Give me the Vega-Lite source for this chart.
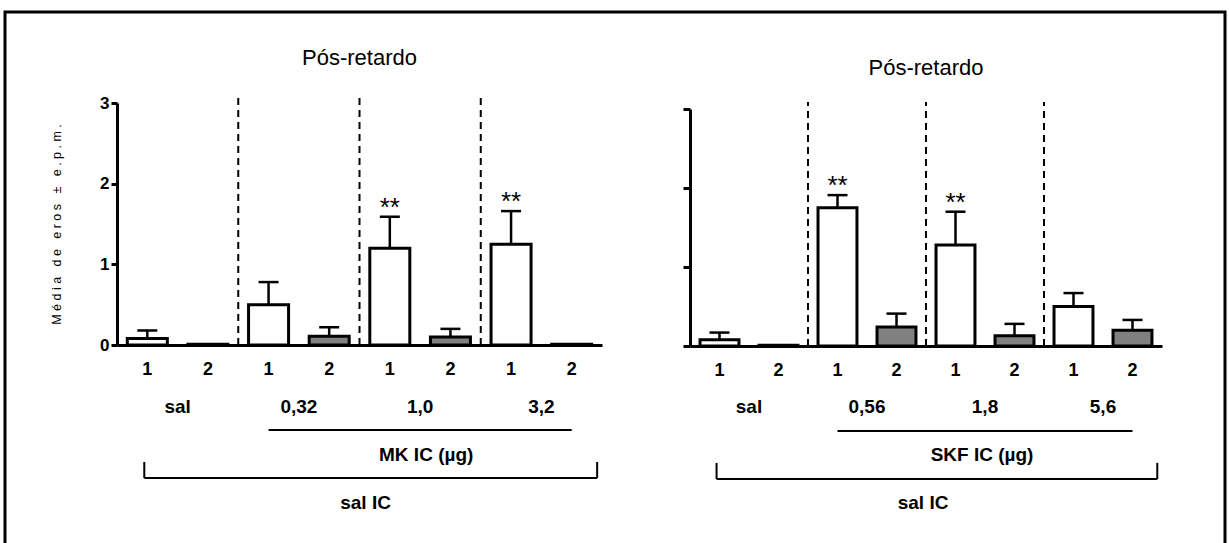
{
  "$schema": "https://vega.github.io/schema/vega-lite/v6.json",
  "width": 1220,
  "height": 560,
  "autosize": {"type": "none"},
  "padding": {"left": 5, "top": 12, "right": 4, "bottom": 0},
  "background": "white",
  "config": {
    "font": "Liberation Sans",
    "view": {"stroke": "black", "strokeWidth": 3},
    "axis": {"grid": false, "domainColor": "black", "tickColor": "black", "labelColor": "black", "titleColor": "black"},
    "text": {"color": "black"}
  },
  "datasets": {
    "left": [
      {"cond": "sal-1", "group": "sal", "trial": "1", "mean": 0.08, "upper": 0.18, "sig": ""},
      {"cond": "sal-2", "group": "sal", "trial": "2", "mean": 0.01, "upper": null, "sig": ""},
      {"cond": "0,32-1", "group": "0,32", "trial": "1", "mean": 0.5, "upper": 0.78, "sig": ""},
      {"cond": "0,32-2", "group": "0,32", "trial": "2", "mean": 0.11, "upper": 0.22, "sig": ""},
      {"cond": "1,0-1", "group": "1,0", "trial": "1", "mean": 1.2, "upper": 1.59, "sig": "**"},
      {"cond": "1,0-2", "group": "1,0", "trial": "2", "mean": 0.1, "upper": 0.2, "sig": ""},
      {"cond": "3,2-1", "group": "3,2", "trial": "1", "mean": 1.25, "upper": 1.66, "sig": "**"},
      {"cond": "3,2-2", "group": "3,2", "trial": "2", "mean": 0.01, "upper": null, "sig": ""}
    ],
    "right": [
      {"cond": "sal-1", "group": "sal", "trial": "1", "mean": 0.08, "upper": 0.17, "sig": ""},
      {"cond": "sal-2", "group": "sal", "trial": "2", "mean": 0.01, "upper": null, "sig": ""},
      {"cond": "0,56-1", "group": "0,56", "trial": "1", "mean": 1.75, "upper": 1.91, "sig": "**"},
      {"cond": "0,56-2", "group": "0,56", "trial": "2", "mean": 0.24, "upper": 0.41, "sig": ""},
      {"cond": "1,8-1", "group": "1,8", "trial": "1", "mean": 1.28, "upper": 1.7, "sig": "**"},
      {"cond": "1,8-2", "group": "1,8", "trial": "2", "mean": 0.13, "upper": 0.28, "sig": ""},
      {"cond": "5,6-1", "group": "5,6", "trial": "1", "mean": 0.5, "upper": 0.67, "sig": ""},
      {"cond": "5,6-2", "group": "5,6", "trial": "2", "mean": 0.2, "upper": 0.33, "sig": ""}
    ],
    "one": [{}]
  },
  "layer": [
    {
      "data": {"name": "left"},
      "transform": [{"filter": "datum.trial == '1' && datum.group != 'sal'"}],
      "mark": {"type": "rule", "strokeDash": [7, 5], "strokeWidth": 2, "color": "black"},
      "encoding": {
        "x": {"field": "cond", "type": "nominal", "bandPosition": 0, "scale": {"type": "band", "domain": ["sal-1","sal-2","0,32-1","0,32-2","1,0-1","1,0-2","3,2-1","3,2-2"], "range": [112, 597], "paddingInner": 0, "paddingOuter": 0}, "axis": null},
        "y": {"datum": 0, "type": "quantitative", "scale": {"domain": [0, 3], "range": [333, 91], "nice": false}, "axis": null},
        "y2": {"datum": 3.07}
      }
    },
    {
      "data": {"name": "left"},
      "mark": {"type": "bar", "width": {"band": 0.66}, "stroke": "black", "strokeWidth": 3},
      "encoding": {
        "x": {"field": "cond", "type": "nominal", "scale": {"type": "band", "domain": ["sal-1","sal-2","0,32-1","0,32-2","1,0-1","1,0-2","3,2-1","3,2-2"], "range": [112, 597], "paddingInner": 0, "paddingOuter": 0},
          "axis": {"orient": "bottom", "offset": -227, "title": null, "ticks": false, "domainWidth": 3, "labelExpr": "split(datum.label, '-')[1]", "labelFontSize": 18, "labelFontWeight": "bold", "labelPadding": 15, "labelAngle": 0}},
        "y": {"field": "mean", "type": "quantitative", "stack": null, "scale": {"domain": [0, 3], "range": [333, 91], "nice": false},
          "axis": {"orient": "left", "offset": -112, "values": [0, 1, 2, 3], "format": "d", "domainWidth": 3, "tickWidth": 3, "tickSize": 6, "labelFontSize": 17, "labelFontWeight": "bold", "labelPadding": 2, "title": "M\u00a0é\u00a0d\u00a0i\u00a0a\u00a0\u00a0\u00a0d\u00a0e\u00a0\u00a0\u00a0e\u00a0r\u00a0o\u00a0s\u00a0\u00a0\u00a0±\u00a0\u00a0\u00a0e\u00a0.\u00a0p\u00a0.\u00a0m\u00a0.", "titleFontSize": 12.5, "titleFontWeight": "normal", "titlePadding": 36}},
        "fill": {"field": "trial", "type": "nominal", "scale": {"domain": ["1", "2"], "range": ["white", "#808080"]}, "legend": null}
      }
    },
    {
      "data": {"name": "left"},
      "transform": [{"filter": "isValid(datum.upper)"}],
      "mark": {"type": "rule", "strokeWidth": 2.5, "color": "black"},
      "encoding": {
        "x": {"field": "cond", "type": "nominal", "scale": {"type": "band", "domain": ["sal-1","sal-2","0,32-1","0,32-2","1,0-1","1,0-2","3,2-1","3,2-2"], "range": [112, 597], "paddingInner": 0, "paddingOuter": 0}, "axis": null},
        "y": {"field": "mean", "type": "quantitative", "scale": {"domain": [0, 3], "range": [333, 91], "nice": false}, "axis": null},
        "y2": {"field": "upper"}
      }
    },
    {
      "data": {"name": "left"},
      "transform": [{"filter": "isValid(datum.upper)"}],
      "mark": {"type": "tick", "thickness": 2.5, "size": 20, "color": "black", "opacity": 1},
      "encoding": {
        "x": {"field": "cond", "type": "nominal", "scale": {"type": "band", "domain": ["sal-1","sal-2","0,32-1","0,32-2","1,0-1","1,0-2","3,2-1","3,2-2"], "range": [112, 597], "paddingInner": 0, "paddingOuter": 0}, "axis": null},
        "y": {"field": "upper", "type": "quantitative", "scale": {"domain": [0, 3], "range": [333, 91], "nice": false}, "axis": null}
      }
    },
    {
      "data": {"name": "left"},
      "transform": [{"filter": "datum.sig != ''"}],
      "mark": {"type": "text", "fontSize": 26, "dy": -1, "baseline": "alphabetic"},
      "encoding": {
        "x": {"field": "cond", "type": "nominal", "scale": {"type": "band", "domain": ["sal-1","sal-2","0,32-1","0,32-2","1,0-1","1,0-2","3,2-1","3,2-2"], "range": [112, 597], "paddingInner": 0, "paddingOuter": 0}, "axis": null},
        "y": {"field": "upper", "type": "quantitative", "scale": {"domain": [0, 3], "range": [333, 91], "nice": false}, "axis": null},
        "text": {"field": "sig"}
      }
    },
    {
      "data": {"name": "left"},
      "transform": [{"filter": "datum.trial == '1'"}],
      "mark": {"type": "text", "fontSize": 19, "fontWeight": "bold", "baseline": "middle"},
      "encoding": {
        "x": {"field": "cond", "type": "nominal", "bandPosition": 1, "scale": {"type": "band", "domain": ["sal-1","sal-2","0,32-1","0,32-2","1,0-1","1,0-2","3,2-1","3,2-2"], "range": [112, 597], "paddingInner": 0, "paddingOuter": 0}, "axis": null},
        "y": {"datum": -0.77, "type": "quantitative", "scale": {"domain": [0, 3], "range": [333, 91], "nice": false}, "axis": null},
        "text": {"field": "group"}
      }
    },
    {
      "data": {"name": "one"},
      "mark": {"type": "text", "fontSize": 22, "baseline": "middle"},
      "encoding": {
        "x": {"datum": 4, "type": "quantitative", "scale": {"domain": [0, 8], "range": [112, 597], "nice": false, "zero": false}, "axis": null},
        "y": {"datum": 3.56, "type": "quantitative", "scale": {"domain": [0, 3], "range": [333, 91], "nice": false}, "axis": null},
        "text": {"value": "Pós-retardo"}
      }
    },
    {
      "data": {"name": "one"},
      "mark": {"type": "rule", "strokeWidth": 2, "color": "black"},
      "encoding": {
        "x": {"datum": 2.5, "type": "quantitative", "scale": {"domain": [0, 8], "range": [112, 597], "nice": false, "zero": false}, "axis": null},
        "x2": {"datum": 7.5},
        "y": {"datum": -1.054, "type": "quantitative", "scale": {"domain": [0, 3], "range": [333, 91], "nice": false}, "axis": null}
      }
    },
    {
      "data": {"name": "one"},
      "mark": {"type": "text", "fontSize": 19, "fontWeight": "bold", "baseline": "middle"},
      "encoding": {
        "x": {"datum": 5.1, "type": "quantitative", "scale": {"domain": [0, 8], "range": [112, 597], "nice": false, "zero": false}, "axis": null},
        "y": {"datum": -1.364, "type": "quantitative", "scale": {"domain": [0, 3], "range": [333, 91], "nice": false}, "axis": null},
        "text": {"value": "MK IC (µg)"}
      }
    },
    {
      "data": {"name": "one"},
      "mark": {"type": "rule", "strokeWidth": 2, "color": "black"},
      "encoding": {
        "x": {"datum": 0.45, "type": "quantitative", "scale": {"domain": [0, 8], "range": [112, 597], "nice": false, "zero": false}, "axis": null},
        "x2": {"datum": 7.92},
        "y": {"datum": -1.649, "type": "quantitative", "scale": {"domain": [0, 3], "range": [333, 91], "nice": false}, "axis": null}
      }
    },
    {
      "data": {"name": "one"},
      "mark": {"type": "rule", "strokeWidth": 2, "color": "black"},
      "encoding": {
        "x": {"datum": 0.45, "type": "quantitative", "scale": {"domain": [0, 8], "range": [112, 597], "nice": false, "zero": false}, "axis": null},
        "y": {"datum": -1.45, "type": "quantitative", "scale": {"domain": [0, 3], "range": [333, 91], "nice": false}, "axis": null},
        "y2": {"datum": -1.649}
      }
    },
    {
      "data": {"name": "one"},
      "mark": {"type": "rule", "strokeWidth": 2, "color": "black"},
      "encoding": {
        "x": {"datum": 7.92, "type": "quantitative", "scale": {"domain": [0, 8], "range": [112, 597], "nice": false, "zero": false}, "axis": null},
        "y": {"datum": -1.45, "type": "quantitative", "scale": {"domain": [0, 3], "range": [333, 91], "nice": false}, "axis": null},
        "y2": {"datum": -1.649}
      }
    },
    {
      "data": {"name": "one"},
      "mark": {"type": "text", "fontSize": 19, "fontWeight": "bold", "baseline": "middle"},
      "encoding": {
        "x": {"datum": 4.1, "type": "quantitative", "scale": {"domain": [0, 8], "range": [112, 597], "nice": false, "zero": false}, "axis": null},
        "y": {"datum": -1.96, "type": "quantitative", "scale": {"domain": [0, 3], "range": [333, 91], "nice": false}, "axis": null},
        "text": {"value": "sal IC"}
      }
    },
    {
      "data": {"name": "right"},
      "transform": [{"filter": "datum.trial == '1' && datum.group != 'sal'"}],
      "mark": {"type": "rule", "strokeDash": [7, 5], "strokeWidth": 2, "color": "black"},
      "encoding": {
        "x": {"field": "cond", "type": "nominal", "bandPosition": 0, "scale": {"type": "band", "domain": ["sal-1","sal-2","0,56-1","0,56-2","1,8-1","1,8-2","5,6-1","5,6-2"], "range": [685, 1157], "paddingInner": 0, "paddingOuter": 0}, "axis": null},
        "y": {"datum": 0, "type": "quantitative", "scale": {"domain": [0, 3], "range": [334, 97], "nice": false}, "axis": null},
        "y2": {"datum": 3.09}
      }
    },
    {
      "data": {"name": "right"},
      "mark": {"type": "bar", "width": {"band": 0.66}, "stroke": "black", "strokeWidth": 3},
      "encoding": {
        "x": {"field": "cond", "type": "nominal", "scale": {"type": "band", "domain": ["sal-1","sal-2","0,56-1","0,56-2","1,8-1","1,8-2","5,6-1","5,6-2"], "range": [685, 1157], "paddingInner": 0, "paddingOuter": 0},
          "axis": {"orient": "bottom", "offset": -226, "title": null, "ticks": false, "domainWidth": 3, "labelExpr": "split(datum.label, '-')[1]", "labelFontSize": 18, "labelFontWeight": "bold", "labelPadding": 15, "labelAngle": 0}},
        "y": {"field": "mean", "type": "quantitative", "stack": null, "scale": {"domain": [0, 3], "range": [334, 97], "nice": false},
          "axis": {"orient": "left", "offset": -685, "values": [0, 1, 2, 3], "labels": false, "domainWidth": 3, "tickWidth": 3, "tickSize": 7, "title": null}},
        "fill": {"field": "trial", "type": "nominal", "scale": {"domain": ["1", "2"], "range": ["white", "#808080"]}, "legend": null}
      }
    },
    {
      "data": {"name": "right"},
      "transform": [{"filter": "isValid(datum.upper)"}],
      "mark": {"type": "rule", "strokeWidth": 2.5, "color": "black"},
      "encoding": {
        "x": {"field": "cond", "type": "nominal", "scale": {"type": "band", "domain": ["sal-1","sal-2","0,56-1","0,56-2","1,8-1","1,8-2","5,6-1","5,6-2"], "range": [685, 1157], "paddingInner": 0, "paddingOuter": 0}, "axis": null},
        "y": {"field": "mean", "type": "quantitative", "scale": {"domain": [0, 3], "range": [334, 97], "nice": false}, "axis": null},
        "y2": {"field": "upper"}
      }
    },
    {
      "data": {"name": "right"},
      "transform": [{"filter": "isValid(datum.upper)"}],
      "mark": {"type": "tick", "thickness": 2.5, "size": 20, "color": "black", "opacity": 1},
      "encoding": {
        "x": {"field": "cond", "type": "nominal", "scale": {"type": "band", "domain": ["sal-1","sal-2","0,56-1","0,56-2","1,8-1","1,8-2","5,6-1","5,6-2"], "range": [685, 1157], "paddingInner": 0, "paddingOuter": 0}, "axis": null},
        "y": {"field": "upper", "type": "quantitative", "scale": {"domain": [0, 3], "range": [334, 97], "nice": false}, "axis": null}
      }
    },
    {
      "data": {"name": "right"},
      "transform": [{"filter": "datum.sig != ''"}],
      "mark": {"type": "text", "fontSize": 26, "dy": -1, "baseline": "alphabetic"},
      "encoding": {
        "x": {"field": "cond", "type": "nominal", "scale": {"type": "band", "domain": ["sal-1","sal-2","0,56-1","0,56-2","1,8-1","1,8-2","5,6-1","5,6-2"], "range": [685, 1157], "paddingInner": 0, "paddingOuter": 0}, "axis": null},
        "y": {"field": "upper", "type": "quantitative", "scale": {"domain": [0, 3], "range": [334, 97], "nice": false}, "axis": null},
        "text": {"field": "sig"}
      }
    },
    {
      "data": {"name": "right"},
      "transform": [{"filter": "datum.trial == '1'"}],
      "mark": {"type": "text", "fontSize": 19, "fontWeight": "bold", "baseline": "middle"},
      "encoding": {
        "x": {"field": "cond", "type": "nominal", "bandPosition": 1, "scale": {"type": "band", "domain": ["sal-1","sal-2","0,56-1","0,56-2","1,8-1","1,8-2","5,6-1","5,6-2"], "range": [685, 1157], "paddingInner": 0, "paddingOuter": 0}, "axis": null},
        "y": {"datum": -0.77, "type": "quantitative", "scale": {"domain": [0, 3], "range": [334, 97], "nice": false}, "axis": null},
        "text": {"field": "group"}
      }
    },
    {
      "data": {"name": "one"},
      "mark": {"type": "text", "fontSize": 22, "baseline": "middle"},
      "encoding": {
        "x": {"datum": 4, "type": "quantitative", "scale": {"domain": [0, 8], "range": [685, 1157], "nice": false, "zero": false}, "axis": null},
        "y": {"datum": 3.52, "type": "quantitative", "scale": {"domain": [0, 3], "range": [334, 97], "nice": false}, "axis": null},
        "text": {"value": "Pós-retardo"}
      }
    },
    {
      "data": {"name": "one"},
      "mark": {"type": "rule", "strokeWidth": 2, "color": "black"},
      "encoding": {
        "x": {"datum": 2.5, "type": "quantitative", "scale": {"domain": [0, 8], "range": [685, 1157], "nice": false, "zero": false}, "axis": null},
        "x2": {"datum": 7.5},
        "y": {"datum": -1.076, "type": "quantitative", "scale": {"domain": [0, 3], "range": [334, 97], "nice": false}, "axis": null}
      }
    },
    {
      "data": {"name": "one"},
      "mark": {"type": "text", "fontSize": 19, "fontWeight": "bold", "baseline": "middle"},
      "encoding": {
        "x": {"datum": 4.95, "type": "quantitative", "scale": {"domain": [0, 8], "range": [685, 1157], "nice": false, "zero": false}, "axis": null},
        "y": {"datum": -1.38, "type": "quantitative", "scale": {"domain": [0, 3], "range": [334, 97], "nice": false}, "axis": null},
        "text": {"value": "SKF IC (µg)"}
      }
    },
    {
      "data": {"name": "one"},
      "mark": {"type": "rule", "strokeWidth": 2, "color": "black"},
      "encoding": {
        "x": {"datum": 0.45, "type": "quantitative", "scale": {"domain": [0, 8], "range": [685, 1157], "nice": false, "zero": false}, "axis": null},
        "x2": {"datum": 7.92},
        "y": {"datum": -1.684, "type": "quantitative", "scale": {"domain": [0, 3], "range": [334, 97], "nice": false}, "axis": null}
      }
    },
    {
      "data": {"name": "one"},
      "mark": {"type": "rule", "strokeWidth": 2, "color": "black"},
      "encoding": {
        "x": {"datum": 0.45, "type": "quantitative", "scale": {"domain": [0, 8], "range": [685, 1157], "nice": false, "zero": false}, "axis": null},
        "y": {"datum": -1.48, "type": "quantitative", "scale": {"domain": [0, 3], "range": [334, 97], "nice": false}, "axis": null},
        "y2": {"datum": -1.684}
      }
    },
    {
      "data": {"name": "one"},
      "mark": {"type": "rule", "strokeWidth": 2, "color": "black"},
      "encoding": {
        "x": {"datum": 7.92, "type": "quantitative", "scale": {"domain": [0, 8], "range": [685, 1157], "nice": false, "zero": false}, "axis": null},
        "y": {"datum": -1.48, "type": "quantitative", "scale": {"domain": [0, 3], "range": [334, 97], "nice": false}, "axis": null},
        "y2": {"datum": -1.684}
      }
    },
    {
      "data": {"name": "one"},
      "mark": {"type": "text", "fontSize": 19, "fontWeight": "bold", "baseline": "middle"},
      "encoding": {
        "x": {"datum": 3.95, "type": "quantitative", "scale": {"domain": [0, 8], "range": [685, 1157], "nice": false, "zero": false}, "axis": null},
        "y": {"datum": -1.99, "type": "quantitative", "scale": {"domain": [0, 3], "range": [334, 97], "nice": false}, "axis": null},
        "text": {"value": "sal IC"}
      }
    }
  ],
  "resolve": {"scale": {"x": "independent", "y": "independent"}, "axis": {"x": "independent", "y": "independent"}}
}
